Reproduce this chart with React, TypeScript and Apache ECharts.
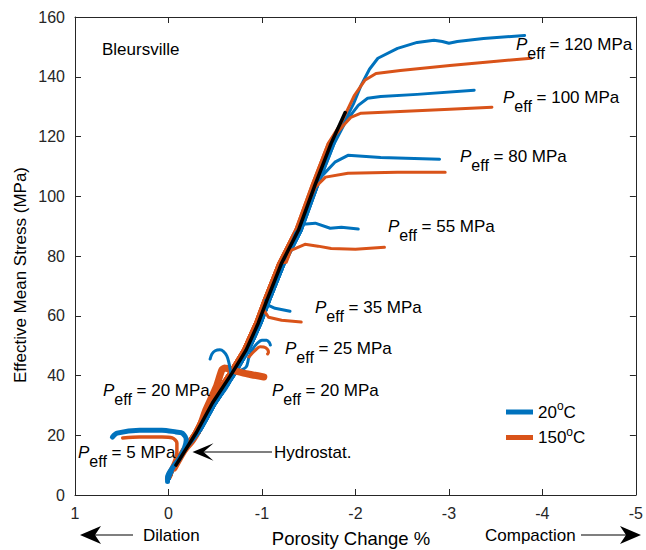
import React, { useEffect, useRef } from "react";
import * as echarts from "echarts";

// ---------- data (porosity change %, effective mean stress MPa) ----------
const xAxisRange = [-5, 1];
const yAxisRange = [0, 160];
const xInterval = 1;
const yInterval = 20;

const hydrostat = [
  [-0.08, 10], [-0.3, 21], [-0.47, 30.8], [-0.68, 40.8], [-0.83, 48.5], [-0.96, 57.5],
  [-1.05, 65], [-1.21, 77.6], [-1.39, 88.6], [-1.57, 104], [-1.74, 117.7], [-1.89, 128],
];

const loading20C = [
  [0.0, 5], [-0.1, 12], [-0.33, 21], [-0.5, 30.5], [-0.71, 40.5], [-0.86, 48.5], [-0.99, 57.5],
  [-1.08, 65], [-1.24, 77.5], [-1.42, 88.5], [-1.6, 104], [-1.77, 117.5], [-1.91, 128],
];
const loading150C = [
  [-0.02, 6], [-0.07, 11], [-0.28, 21], [-0.44, 30.8], [-0.65, 40.8], [-0.8, 48.5], [-0.93, 57.5],
  [-1.02, 65], [-1.18, 77.6], [-1.36, 88.6], [-1.54, 104], [-1.71, 117.7], [-1.86, 128],
];

// 20 °C tests (after leaving the hydrostat)
const blue120 = [[-1.81, 121.4], [-1.9, 126], [-1.98, 131], [-2.06, 137.1], [-2.15, 142.5], [-2.24, 146.2], [-2.45, 149.5], [-2.66, 151.5], [-2.84, 152.2], [-2.93, 151.8], [-3.0, 151.2], [-3.09, 151.8], [-3.37, 152.8], [-3.81, 153.8]];
const blue100 = [[-1.89, 124.7], [-2.03, 130.4], [-2.13, 132.8], [-2.27, 133.4], [-2.66, 134.1], [-3.27, 135.5]];
const blue80 = [[-1.63, 106.4], [-1.78, 111.4], [-1.92, 113.7], [-2.27, 113.0], [-2.9, 112.4]];
const blue55 = [[-1.36, 87.6], [-1.44, 90.6], [-1.57, 91.0], [-1.73, 89.3], [-1.85, 89.6], [-2.03, 89.0]];
const blue35 = [[-1.04, 65.2], [-1.07, 63.5], [-1.14, 62.5], [-1.3, 61.5]];
const blue25 = [[-0.83, 42.8], [-0.86, 46], [-0.9, 48.8], [-0.95, 50.8], [-1.0, 51.8], [-1.05, 51.8], [-1.08, 51], [-1.09, 50.2]];
const blue20 = [[-0.67, 39.5], [-0.66, 42], [-0.645, 44.5], [-0.625, 46.5], [-0.59, 48], [-0.55, 48.6], [-0.5, 48.3], [-0.465, 47.2], [-0.445, 45.5]];
const blue5 = [[0.01, 4.5], [0.01, 6], [-0.04, 9], [-0.12, 12.4], [-0.17, 15.7], [-0.19, 18.4], [-0.15, 20.7], [-0.08, 21.1], [0.07, 21.7], [0.31, 21.7], [0.55, 20.7], [0.6, 19.4]];

// 150 °C tests
const orange120 = [[-1.85, 124.7], [-1.99, 133.8], [-2.1, 138.8], [-2.22, 141.1], [-2.48, 142.1], [-3.01, 143.8], [-3.51, 145.2], [-3.88, 146.2]];
const orange100 = [[-1.87, 123.7], [-1.95, 126.4], [-2.06, 127.8], [-2.48, 128.4], [-3.01, 129.1], [-3.46, 129.8]];
const orange80 = [[-1.57, 103], [-1.68, 106.4], [-1.92, 107.7], [-2.45, 108.0], [-2.96, 108.0]];
const orange55 = [[-1.26, 77.9], [-1.31, 81.9], [-1.46, 83.9], [-1.6, 83.3], [-1.74, 82.5], [-2.0, 82.3], [-2.31, 82.9]];
const orange35 = [[-1.02, 61.9], [-1.07, 59.5], [-1.21, 58.5], [-1.42, 57.9]];
const orange25 = [[-0.86, 46.2], [-0.93, 48.5], [-0.98, 49.6], [-1.04, 49.3], [-1.07, 47.8], [-1.06, 47.2]];
const orange20 = [[-0.06, 9], [-0.17, 15], [-0.26, 18.5], [-0.33, 22.4], [-0.4, 28.5], [-0.51, 36.1], [-0.57, 41.8], [-0.6, 42.5], [-0.72, 41.5], [-0.85, 40.5], [-1.02, 39.5]];
const orange5 = [[0.02, 5.5], [-0.01, 7.7], [-0.06, 11], [-0.09, 14.4], [-0.09, 17.4], [-0.04, 19.1], [0.07, 19.4], [0.31, 19.4], [0.49, 19.1]];

const peffValues = ["120", "100", "80", "55", "35", "25", "20", "20", "5"];
const legendNames = ["20°C", "150°C"];

// ---------- styling ----------
const FONT = '"Liberation Sans", Arial, Helvetica, sans-serif';
const AX = "#262626";
const BLUE = "#0072BD";
const ORANGE = "#D95319";

function withLoading(loading: number[][], curve: number[][]) {
  const s0 = curve[0][1];
  return loading.filter((p) => p[1] < s0).concat(curve);
}

function lineSeries(name: string, data: number[][], color: string, width: number, smooth: number | boolean = false) {
  return {
    name,
    type: "line",
    data,
    smooth,
    showSymbol: false,
    symbol: "none",
    color,
    itemStyle: { color },
    lineStyle: { color, width, cap: "round", join: "round" },
    emphasis: { disabled: true },
    silent: true,
    z: 2,
  };
}

// annotation placements (pixels)
const peffPlaces = [
  [516, 44], [503, 97], [460, 156], [388, 226], [315, 307], [285, 348], [272, 390], [103, 390], [78, 452],
];

function peffText(value: string, x: number, y: number) {
  return {
    type: "text",
    x,
    y,
    z: 10,
    style: {
      text: `{p|P}{s|eff} = ${value} MPa`,
      fontSize: 17,
      fontFamily: FONT,
      fill: "#000",
      align: "left",
      verticalAlign: "middle",
      rich: {
        p: { fontStyle: "italic", fontSize: 17, fontFamily: FONT, fill: "#000" },
        s: { fontSize: 16, fontFamily: FONT, fill: "#000", padding: [19, 0, 0, 0] },
      },
    },
  };
}

function plainText(text: string, x: number, y: number, size: number, align = "left", rotation = 0) {
  return {
    type: "text",
    x,
    y,
    rotation,
    z: 10,
    style: { text, fontSize: size, fontFamily: FONT, fill: "#000", align, verticalAlign: "middle" },
  };
}

function arrow(x1: number, x2: number, y: number, headLen: number, half: number, notch: number) {
  // x2 = tip
  const dir = x2 > x1 ? 1 : -1;
  const back = x2 - dir * headLen;
  const mid = x2 - dir * (headLen - notch);
  return [
    { type: "line", z: 10, shape: { x1, y1: y, x2: mid, y2: y }, style: { stroke: "#000", lineWidth: 1.2 } },
    {
      type: "polygon",
      z: 10,
      shape: { points: [[x2, y], [back, y - half], [mid, y], [back, y + half]] },
      style: { fill: "#000" },
    },
  ];
}

export default function App() {
  const ref = useRef<HTMLDivElement>(null);

  useEffect(() => {
    if (!ref.current) return;
    const chart = echarts.init(ref.current, undefined, { renderer: "svg" });

    const axisCommon = {
      type: "value",
      splitLine: { show: false },
      axisLine: { show: true, onZero: false, lineStyle: { color: AX, width: 1 } },
      axisTick: { show: true, inside: true, length: 6, lineStyle: { color: AX, width: 1 } },
    };

    const series: any[] = [
      lineSeries(legendNames[0], withLoading(loading20C, blue120), BLUE, 3),
      lineSeries(legendNames[1], withLoading(loading150C, orange120), ORANGE, 3),
      lineSeries(legendNames[0], withLoading(loading20C, blue100), BLUE, 3),
      lineSeries(legendNames[1], withLoading(loading150C, orange100), ORANGE, 3),
      lineSeries(legendNames[0], withLoading(loading20C, blue80), BLUE, 3),
      lineSeries(legendNames[1], withLoading(loading150C, orange80), ORANGE, 3),
      lineSeries(legendNames[0], withLoading(loading20C, blue55), BLUE, 3),
      lineSeries(legendNames[1], withLoading(loading150C, orange55), ORANGE, 3),
      lineSeries(legendNames[0], withLoading(loading20C, blue35), BLUE, 3),
      lineSeries(legendNames[1], withLoading(loading150C, orange35), ORANGE, 3),
      lineSeries(legendNames[0], withLoading(loading20C, blue25), BLUE, 3, 0.3),
      lineSeries(legendNames[1], orange25, ORANGE, 3, 0.3),
      lineSeries(legendNames[1], orange20, ORANGE, 7, 0.2),
      lineSeries(legendNames[0], withLoading(loading20C, blue20), BLUE, 3, 0.3),
      lineSeries(legendNames[1], orange5, ORANGE, 3.5, 0.3),
      lineSeries(legendNames[0], blue5, BLUE, 5, 0.3),
      { ...lineSeries("Hydrostat", hydrostat, "#000", 3.5), z: 3 },
    ];

    const graphic: any[] = [
      plainText("Bleursville", 102, 49, 17),
      ...peffPlaces.map((p, i) => peffText(peffValues[i], p[0], p[1])),
      plainText("Hydrostat.", 274, 452, 17),
      ...arrow(272, 192.5, 452, 21, 8.7, 10),
      plainText("Porosity Change %", 351, 538, 18.5, "center"),
      plainText("Effective Mean Stress (MPa)", 20, 275, 17, "center", Math.PI / 2),
      plainText("Dilation", 143, 535, 17),
      ...arrow(133, 80, 535, 21, 9, 6),
      plainText("Compaction", 485, 535, 17),
      ...arrow(581, 641, 535, 21, 9, 6),
    ];

    chart.setOption({
      animation: false,
      backgroundColor: "#fff",
      textStyle: { fontFamily: FONT },
      grid: { left: 75, top: 17, right: 7, bottom: 55, containLabel: false },
      legend: {
        data: legendNames,
        orient: "vertical",
        left: 506,
        top: 400,
        padding: 0,
        itemWidth: 27,
        itemHeight: 5,
        itemGap: 5,
        icon: "rect",
        selectedMode: false,
        formatter: (n: string) => (n === legendNames[0] ? "20{o|o}C" : "150{o|o}C"),
        textStyle: {
          fontSize: 17,
          color: "#000",
          fontFamily: FONT,
          rich: { o: { fontSize: 12, fontFamily: FONT, color: "#000", padding: [0, 0, 12, 0] } },
        },
      },
      xAxis: [
        {
          ...axisCommon,
          position: "bottom",
          min: xAxisRange[0],
          max: xAxisRange[1],
          interval: xInterval,
          inverse: true,
          axisLabel: { color: AX, fontSize: 16, fontFamily: FONT, margin: 10 },
        },
        {
          ...axisCommon,
          position: "top",
          min: xAxisRange[0],
          max: xAxisRange[1],
          interval: xInterval,
          inverse: true,
          axisLabel: { show: false },
        },
      ],
      yAxis: [
        {
          ...axisCommon,
          position: "left",
          min: yAxisRange[0],
          max: yAxisRange[1],
          interval: yInterval,
          axisLabel: { color: AX, fontSize: 16, fontFamily: FONT, margin: 10 },
        },
        {
          ...axisCommon,
          position: "right",
          min: yAxisRange[0],
          max: yAxisRange[1],
          interval: yInterval,
          axisLabel: { show: false },
        },
      ],
      series,
      graphic,
    });

    return () => chart.dispose();
  }, []);

  return (
    <div
      ref={ref}
      style={{ position: "fixed", left: 0, top: 0, width: 646, height: 550, background: "#fff" }}
    />
  );
}
